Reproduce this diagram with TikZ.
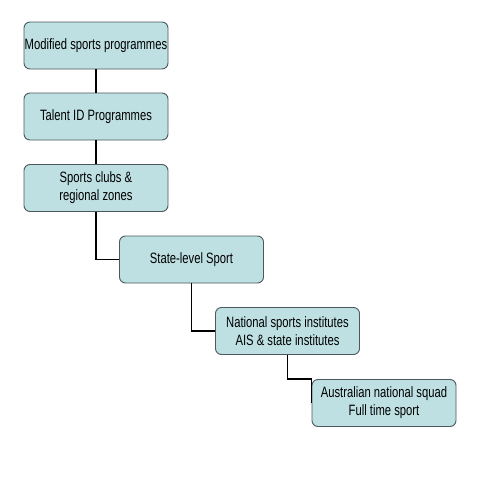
\documentclass[tikz,border=0pt]{standalone}
\usepackage{fontspec}
\setmainfont{Liberation Sans}[FakeStretch=0.75]
\definecolor{boxfill}{HTML}{BEE0E3}
\definecolor{boxline}{HTML}{4A5A5C}
\begin{document}
\begin{tikzpicture}[x=1pt,y=-1pt,
  stagebox/.style={draw=boxline, fill=boxfill, line width=0.9pt, rounded corners=6pt,
    minimum width=144pt, minimum height=47pt, inner sep=0pt, align=center,
    font=\fontsize{15}{18}\selectfont},
  link/.style={draw=black, line width=1.3pt}]
\useasboundingbox (0,0) rectangle (480,480);
\node[stagebox] (b1) at (96,45.5) {Modified sports programmes};
\node[stagebox] (b2) at (96,116.5) {Talent ID Programmes};
\node[stagebox] (b3) at (96,188) {Sports clubs \&\\regional zones};
\node[stagebox] (b4) at (191.5,259.5) {State-level Sport};
\node[stagebox] (b5) at (287.5,331) {National sports institutes\\AIS \& state institutes};
\node[stagebox] (b6) at (384,403) {Australian national squad\\Full time sport};
\draw[link] (b1) -- (b2);
\draw[link] (b2) -- (b3);
\draw[link] (b3.south) |- (b4.west);
\draw[link] (b4.south) |- (b5.west);
\draw[link] (b5.south) |- (b6.north west) -- (b6.west);
\end{tikzpicture}
\end{document}
